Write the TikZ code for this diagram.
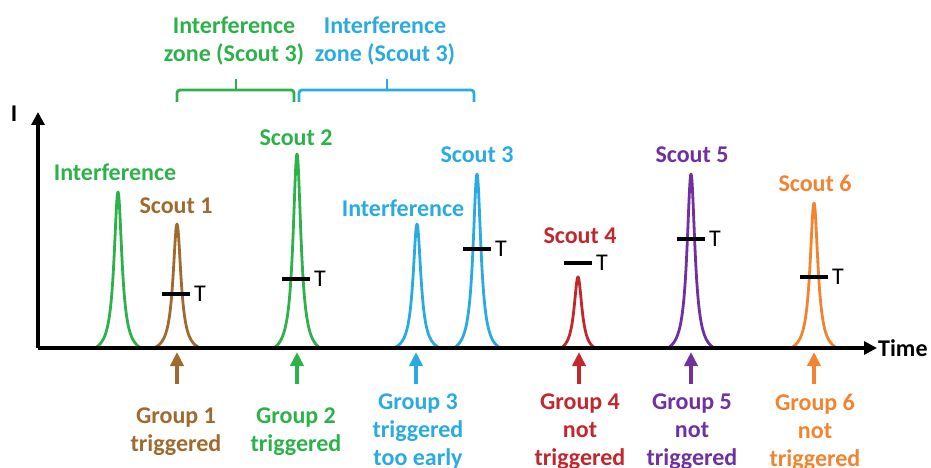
\documentclass[tikz,border=0pt]{standalone}
\usepackage{fontspec}
\setmainfont{Carlito}
\usetikzlibrary{arrows.meta,positioning}
\definecolor{sgreen}{HTML}{2DB24A}
\definecolor{sblue}{HTML}{29ABE2}
\definecolor{sbrown}{HTML}{A0692E}
\definecolor{sred}{HTML}{C1272D}
\definecolor{spurple}{HTML}{7030A0}
\definecolor{sorange}{HTML}{F28330}
% one peak: centre, height, half base, colour
\newcommand{\peak}[4]{%
  \draw[#4,line width=2.8pt,line join=round]
    plot[domain=-#3:#3,samples=81,smooth]
    ({#1+\x},{348-#2*(1/(1+(\x/4.8)*(\x/4.8))-1/(1+(#3/4.8)*(#3/4.8)))/(1-1/(1+(#3/4.8)*(#3/4.8)))});}
\begin{document}
\begin{tikzpicture}[x=1pt,y=-1pt,
    every node/.style={font=\fontsize{24}{28}\selectfont\bfseries,align=center,inner sep=0pt},
    axis/.style={line width=3.2pt,-{Triangle[length=13pt,width=13pt]}},
    tbar/.style={line width=3.2pt},
    tlbl/.style={font=\fontsize{24}{28}\selectfont,anchor=west},
    grp/.style={line width=4pt,-{Triangle[length=14pt,width=13pt]}},
    zone/.style={line width=2.8pt,rounded corners=3pt}]
  \useasboundingbox (0,0) rectangle (931,468);

  % zones
  \node[sgreen] (z1) at (234,41) {Interference\\zone (Scout 3)};
  \node[sblue] (z2) at (385,41) {Interference\\zone (Scout 3)};
  \draw[zone,sgreen] (177,102) -- (177,90) -- (294,90) -- (294,102);
  \draw[zone,sgreen] (236,90) -- (236,79);
  \draw[zone,sblue] (299,102) -- (299,90) -- (474,90) -- (474,102);
  \draw[zone,sblue] (387,90) -- (387,79);

  % peaks
  \peak{118}{156}{23}{sgreen}
  \peak{177}{124}{23}{sbrown}
  \peak{297}{194}{23}{sgreen}
  \peak{417}{124}{23}{sblue}
  \peak{477}{174}{23}{sblue}
  \peak{578}{71}{17}{sred}
  \peak{691}{174}{23}{spurple}
  \peak{814}{145}{23}{sorange}

  % peak labels
  \node[sgreen] (i1) at (115,172) {Interference};
  \node[sbrown] (s1) at (176,206) {Scout 1};
  \node[sgreen] (s2) at (296,138) {Scout 2};
  \node[sblue] (i2) at (403,208) {Interference};
  \node[sblue] (s3) at (477,155) {Scout 3};
  \node[sred] (s4) at (580,236) {Scout 4};
  \node[spurple] (s5) at (692,155) {Scout 5};
  \node[sorange] (s6) at (815,183) {Scout 6};

  % thresholds
  \draw[tbar] (162,294) -- (190,294) coordinate (t1);
  \node[tlbl,right=4pt of t1] (T1) {T};
  \draw[tbar] (282,279) -- (310,279) coordinate (t2);
  \node[tlbl,right=4pt of t2] (T2) {T};
  \draw[tbar] (463,249) -- (491,249) coordinate (t3);
  \node[tlbl,right=4pt of t3] (T3) {T};
  \draw[tbar] (564,263) -- (592,263) coordinate (t4);
  \node[tlbl,right=4pt of t4] (T4) {T};
  \draw[tbar] (677,239) -- (705,239) coordinate (t5);
  \node[tlbl,right=4pt of t5] (T5) {T};
  \draw[tbar] (800,277) -- (828,277) coordinate (t6);
  \node[tlbl,right=4pt of t6] (T6) {T};

  % axes
  \coordinate (o) at (38,348);
  \draw[axis] (o) -- (877,348) coordinate (xe);
  \draw[axis] (o) -- (38,112) coordinate (ye);
  \node[anchor=west] (time) at (878,348) {Time};
  \node (I) at (14,114) {I};

  % groups
  \node[sbrown] (g1) at (176,432) {Group 1\\triggered};
  \node[sgreen] (g2) at (296,432) {Group 2\\triggered};
  \node[sblue] (g3) at (418,432) {Group 3\\triggered\\too early};
  \node[sred] (g4) at (580,432) {Group 4\\not\\triggered};
  \node[spurple] (g5) at (692,432) {Group 5\\not\\triggered};
  \node[sorange] (g6) at (815,432) {Group 6\\not\\triggered};
  \coordinate (a1) at (177,384); \coordinate (b1) at (177,352);
  \coordinate (a2) at (297,384); \coordinate (b2) at (297,352);
  \coordinate (a3) at (416,384); \coordinate (b3) at (416,352);
  \coordinate (a4) at (579,384); \coordinate (b4) at (579,352);
  \coordinate (a5) at (691,384); \coordinate (b5) at (691,352);
  \coordinate (a6) at (814,384); \coordinate (b6) at (814,352);
  \draw[grp,sbrown] (a1) -- (b1);
  \draw[grp,sgreen] (a2) -- (b2);
  \draw[grp,sblue] (a3) -- (b3);
  \draw[grp,sred] (a4) -- (b4);
  \draw[grp,spurple] (a5) -- (b5);
  \draw[grp,sorange] (a6) -- (b6);
\end{tikzpicture}
\end{document}
